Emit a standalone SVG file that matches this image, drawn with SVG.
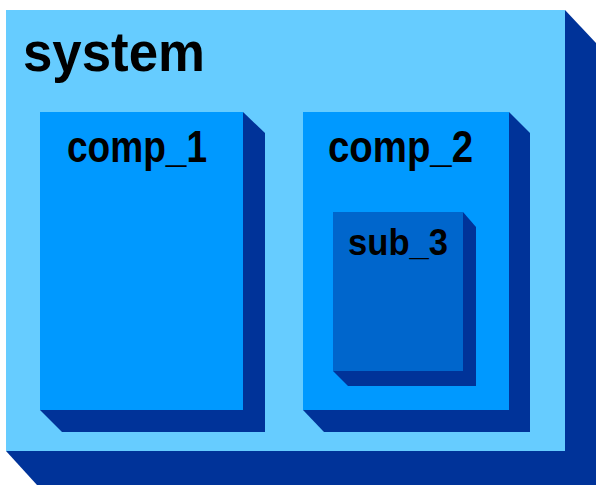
<svg xmlns="http://www.w3.org/2000/svg" width="600" height="493" viewBox="0 0 600 493">
<style>
.shadow{fill:#003399}
.sys{fill:#66CCFF}
.comp{fill:#0099FF}
.sub{fill:#0066CC}
.lbl{font-family:"Liberation Sans",Arial,sans-serif;fill:#000;font-weight:bold}
</style>
<rect width="600" height="493" fill="#fff"/>
<g id="system">
<polygon class="shadow" points="565,10 596,43 596,485 37,485 6,451"/>
<rect class="sys" x="6" y="10" width="559" height="441"/>
<text class="lbl" x="23" y="71" font-size="56" textLength="182" lengthAdjust="spacingAndGlyphs">system</text>
</g>
<g id="comp_1">
<polygon class="shadow" points="243,112 265,133 265,432 62,432 40,410"/>
<rect class="comp" x="40" y="112" width="203" height="298"/>
<text class="lbl" x="67" y="162" font-size="44" textLength="140" lengthAdjust="spacingAndGlyphs">comp_1</text>
</g>
<g id="comp_2">
<polygon class="shadow" points="509,112 530,133 530,432 324,432 303,410"/>
<rect class="comp" x="303" y="112" width="206" height="298"/>
<text class="lbl" x="328" y="162" font-size="44" textLength="145" lengthAdjust="spacingAndGlyphs">comp_2</text>
</g>
<g id="sub_3">
<polygon class="shadow" points="463,212 476,227 476,386 348,386 333,371"/>
<rect class="sub" x="333" y="212" width="130" height="159"/>
<text class="lbl" x="348" y="255" font-size="36" textLength="100" lengthAdjust="spacingAndGlyphs">sub_3</text>
</g>
<g id="connectors"/>
</svg>
